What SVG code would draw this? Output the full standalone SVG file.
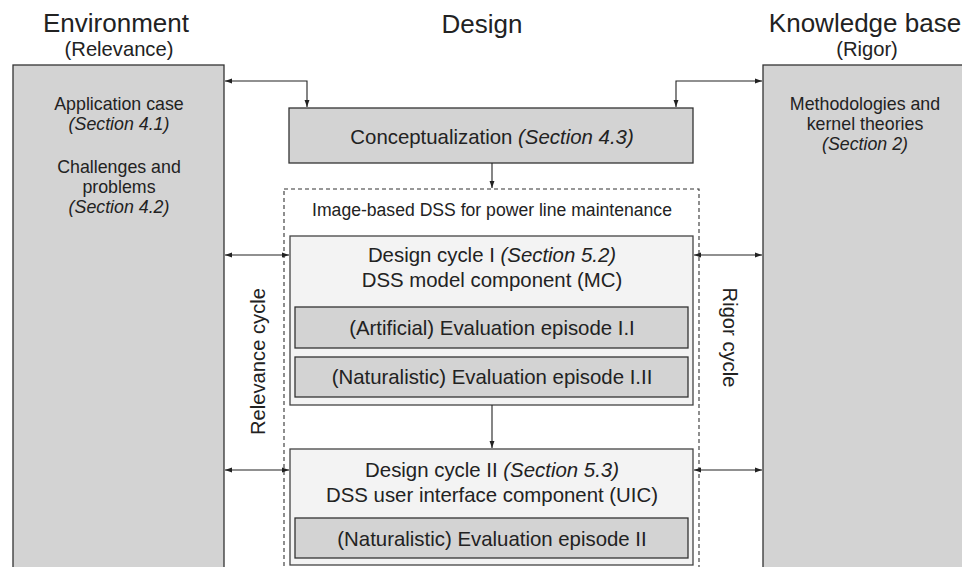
<svg xmlns="http://www.w3.org/2000/svg" width="962" height="567" viewBox="0 0 962 567">
<defs>
<marker id="ah" viewBox="0 0 10 10" refX="10" refY="5" markerWidth="7" markerHeight="7" orient="auto-start-reverse" markerUnits="userSpaceOnUse">
<path d="M0,1.5 L10,5 L0,8.5 z" fill="#222"/>
</marker>
<style>
text{font-family:"Liberation Sans",Arial,sans-serif;fill:#222;text-anchor:middle}
.dark{fill:#d3d3d3;stroke:#333;stroke-width:1.3}
.light{fill:#f3f3f3;stroke:#444;stroke-width:1.3}
.con{fill:none;stroke:#222;stroke-width:1.1}
.it{font-style:italic}
.bt{font-size:17.8px}
.ct{font-size:20.4px}
</style>
</defs>
<rect width="962" height="567" fill="#fff"/>
<g id="titles">
<text x="116" y="32" font-size="26">Environment</text>
<text x="119" y="56" font-size="20.2">(Relevance)</text>
<text x="482" y="33" font-size="26">Design</text>
<text x="865" y="32" font-size="26">Knowledge base</text>
<text x="867" y="56" font-size="20.2">(Rigor)</text>
</g>
<g id="environment">
<rect class="dark" x="13" y="65" width="211" height="520"/>
<text x="119" y="110" class="bt">Application case</text>
<text x="119" y="130" class="bt it">(Section 4.1)</text>
<text x="119" y="173" class="bt">Challenges and</text>
<text x="119" y="193" class="bt">problems</text>
<text x="119" y="213" class="bt it">(Section 4.2)</text>
</g>
<g id="knowledge">
<rect class="dark" x="763" y="65" width="220" height="520"/>
<text x="865" y="110" class="bt">Methodologies and</text>
<text x="865" y="130" class="bt">kernel theories</text>
<text x="865" y="150" class="bt it">(Section 2)</text>
</g>
<g id="conceptualization">
<rect class="dark" x="289" y="108" width="404" height="55"/>
<text x="492" y="144" class="ct">Conceptualization <tspan class="it">(Section 4.3)</tspan></text>
</g>
<g id="dss">
<rect x="284" y="189" width="415" height="400" fill="none" stroke="#333" stroke-width="1.1" stroke-dasharray="4,3"/>
<text x="492" y="216" font-size="17.6">Image-based DSS for power line maintenance</text>
</g>
<g id="cycle1">
<rect class="light" x="290" y="236" width="403" height="169"/>
<text x="492" y="262" class="ct">Design cycle I <tspan class="it">(Section 5.2)</tspan></text>
<text x="492" y="287" class="ct">DSS model component (MC)</text>
</g>
<g id="eval11">
<rect class="dark" x="295" y="307" width="393" height="41"/>
<text x="492" y="335" class="ct">(Artificial) Evaluation episode I.I</text>
</g>
<g id="eval12">
<rect class="dark" x="295" y="357" width="393" height="40"/>
<text x="492" y="384" class="ct">(Naturalistic) Evaluation episode I.II</text>
</g>
<g id="cycle2">
<rect class="light" x="290" y="449" width="403" height="116"/>
<text x="492" y="477" class="ct">Design cycle II <tspan class="it">(Section 5.3)</tspan></text>
<text x="492" y="502" class="ct">DSS user interface component (UIC)</text>
</g>
<g id="eval2">
<rect class="dark" x="295" y="518" width="393" height="40"/>
<text x="492" y="546" class="ct">(Naturalistic) Evaluation episode II</text>
</g>
<g id="labels">
<text transform="translate(265,361.5) rotate(-90)" font-size="20.2">Relevance cycle</text>
<text transform="translate(723,337.5) rotate(90)" font-size="20.2">Rigor cycle</text>
</g>
<g id="connectors">
<path class="con" d="M225,81 H307 V107" marker-start="url(#ah)" marker-end="url(#ah)"/>
<path class="con" d="M762,81 H676 V107" marker-start="url(#ah)" marker-end="url(#ah)"/>
<path class="con" d="M492,163 V188" marker-end="url(#ah)"/>
<path class="con" d="M492,405 V448" marker-end="url(#ah)"/>
<path class="con" d="M225,255 H289" marker-start="url(#ah)" marker-end="url(#ah)"/>
<path class="con" d="M225,470 H289" marker-start="url(#ah)" marker-end="url(#ah)"/>
<path class="con" d="M694,255 H762" marker-start="url(#ah)" marker-end="url(#ah)"/>
<path class="con" d="M694,470 H762" marker-start="url(#ah)" marker-end="url(#ah)"/>
</g>
</svg>
